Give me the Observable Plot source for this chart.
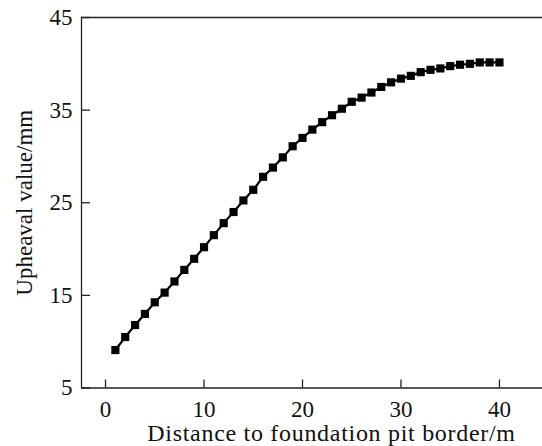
<!DOCTYPE html>
<html>
<head>
<meta charset="utf-8">
<script src="https://cdn.jsdelivr.net/npm/d3@7"></script>
<script src="https://cdn.jsdelivr.net/npm/@observablehq/plot@0.6"></script>
<style>
  html, body { margin: 0; padding: 0; background: #fff; }
  svg { display: block; }
  .xlabel text { letter-spacing: 0.7px; }
</style>
</head>
<body>
<div id="chart"></div>
<script>
const distance = [1,2,3,4,5,6,7,8,9,10,11,12,13,14,15,16,17,18,19,20,21,22,23,24,25,26,27,28,29,30,31,32,33,34,35,36,37,38,39,40];
const upheaval = [9.1,10.5,11.8,13.0,14.25,15.3,16.5,17.75,18.95,20.2,21.5,22.8,24.0,25.25,26.4,27.8,28.8,29.9,31.1,32.0,32.9,33.7,34.45,35.15,35.9,36.35,36.9,37.5,38.0,38.4,38.7,39.1,39.35,39.5,39.75,39.9,40.0,40.15,40.15,40.15];
const xTicks = [0,10,20,30,40];
const yTicks = [5,15,25,35,45];
const xTitle = "Distance to foundation pit border/m";
const yTitle = "Upheaval value/mm";

const data = distance.map((d, i) => ({x: d, y: upheaval[i]}));
const xDomain = [-2.44, 44.37];
const yDomain = [5, 45];
const ink = "#222";
const font = "'Liberation Serif', 'DejaVu Serif', serif";

const chart = Plot.plot({
  width: 542,
  height: 446,
  marginLeft: 81,
  marginRight: 0,
  marginTop: 17,
  marginBottom: 58.5,
  style: {fontFamily: font, fontSize: "23px", color: "#111", background: "#fff"},
  x: {domain: xDomain},
  y: {domain: yDomain},
  marks: [
    Plot.ruleY([yDomain[1]], {stroke: ink, strokeWidth: 1.3}),
    Plot.ruleX([xDomain[0]], {stroke: ink, strokeWidth: 1.3}),
    Plot.ruleY([yDomain[0]], {stroke: ink, strokeWidth: 1.3}),
    Plot.axisX({ticks: xTicks, tickSize: -8, tickPadding: 20.5, stroke: ink, strokeWidth: 1.3, label: null, fontSize: 23}),
    Plot.text([xTitle], {text: d => d, frameAnchor: "bottom", lineAnchor: "bottom", dx: 19.5, dy: 52.5,
      fontSize: 24, fill: "#111", className: "xlabel"}),
    Plot.axisY({ticks: yTicks, tickSize: -9, tickPadding: 18, stroke: ink, strokeWidth: 1.3,
      label: yTitle, labelAnchor: "center", labelArrow: "none", labelOffset: 66, fontSize: 23}),
    Plot.line(data, {x: "x", y: "y", stroke: "#000", strokeWidth: 2.2}),
    Plot.dot(data, {x: "x", y: "y", symbol: "square", r: 4.6, fill: "#000", stroke: "none"})
  ]
});
document.getElementById("chart").appendChild(chart);
</script>
</body>
</html>
